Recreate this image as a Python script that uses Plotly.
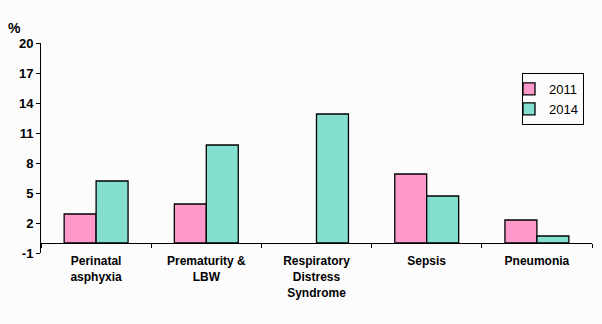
import plotly.graph_objects as go

categories = ["Perinatal<br>asphyxia", "Prematurity &<br>LBW", "Respiratory<br>Distress<br>Syndrome", "Sepsis", "Pneumonia"]
vals_2011 = [2.9, 3.9, None, 6.9, 2.3]
vals_2014 = [6.2, 9.8, 12.9, 4.7, 0.7]
y_ticks = [-1, 2, 5, 8, 11, 14, 17, 20]

FONT = "Liberation Sans, Arial, sans-serif"

fig = go.Figure()
fig.add_bar(x=categories, y=vals_2011, name="2011",
            marker=dict(color="#FF99CC", line=dict(color="black", width=1.3)))
fig.add_bar(x=categories, y=vals_2014, name="2014",
            marker=dict(color="#84DFD0", line=dict(color="black", width=1.3)))

fig.update_layout(
    width=602, height=324,
    margin=dict(l=41, r=10, t=43, b=71, autoexpand=False),
    paper_bgcolor="#fcfcfc", plot_bgcolor="#fcfcfc",
    barmode="group", bargap=0.42, bargroupgap=0,
    font=dict(family=FONT, color="black"),
    showlegend=True,
    legend=dict(x=(584 - 41) / 551, y=(253 - 73) / 210, xanchor="right", yanchor="top",
                bgcolor="#fcfcfc", bordercolor="black", borderwidth=1,
                font=dict(size=13, family=FONT), tracegroupgap=0,
                itemwidth=30, traceorder="normal", indentation=-14),
    xaxis=dict(anchor="free", position=1/21, showline=True, linecolor="black", linewidth=1,
               ticks="outside", tickson="boundaries", ticklen=4, tickcolor="black",
               tickfont=dict(size=12, family=FONT, weight="bold"),
               ticklabelstandoff=7, showgrid=False),
    yaxis=dict(range=[-1, 20], tickvals=y_ticks, ticktext=[str(v) for v in y_ticks],
               showline=True, linecolor="black", linewidth=1,
               ticks="outside", ticklen=4, tickcolor="black",
               tickfont=dict(size=13, family=FONT, weight="bold"),
               showgrid=False, zeroline=False),
    annotations=[dict(text="%", x=(15 - 41) / 551, y=(253 - 28) / 210, xref="paper", yref="paper",
                      xanchor="center", yanchor="middle", showarrow=False,
                      font=dict(size=14, family=FONT, weight="bold"))],
)

fig.write_html("out.html")
